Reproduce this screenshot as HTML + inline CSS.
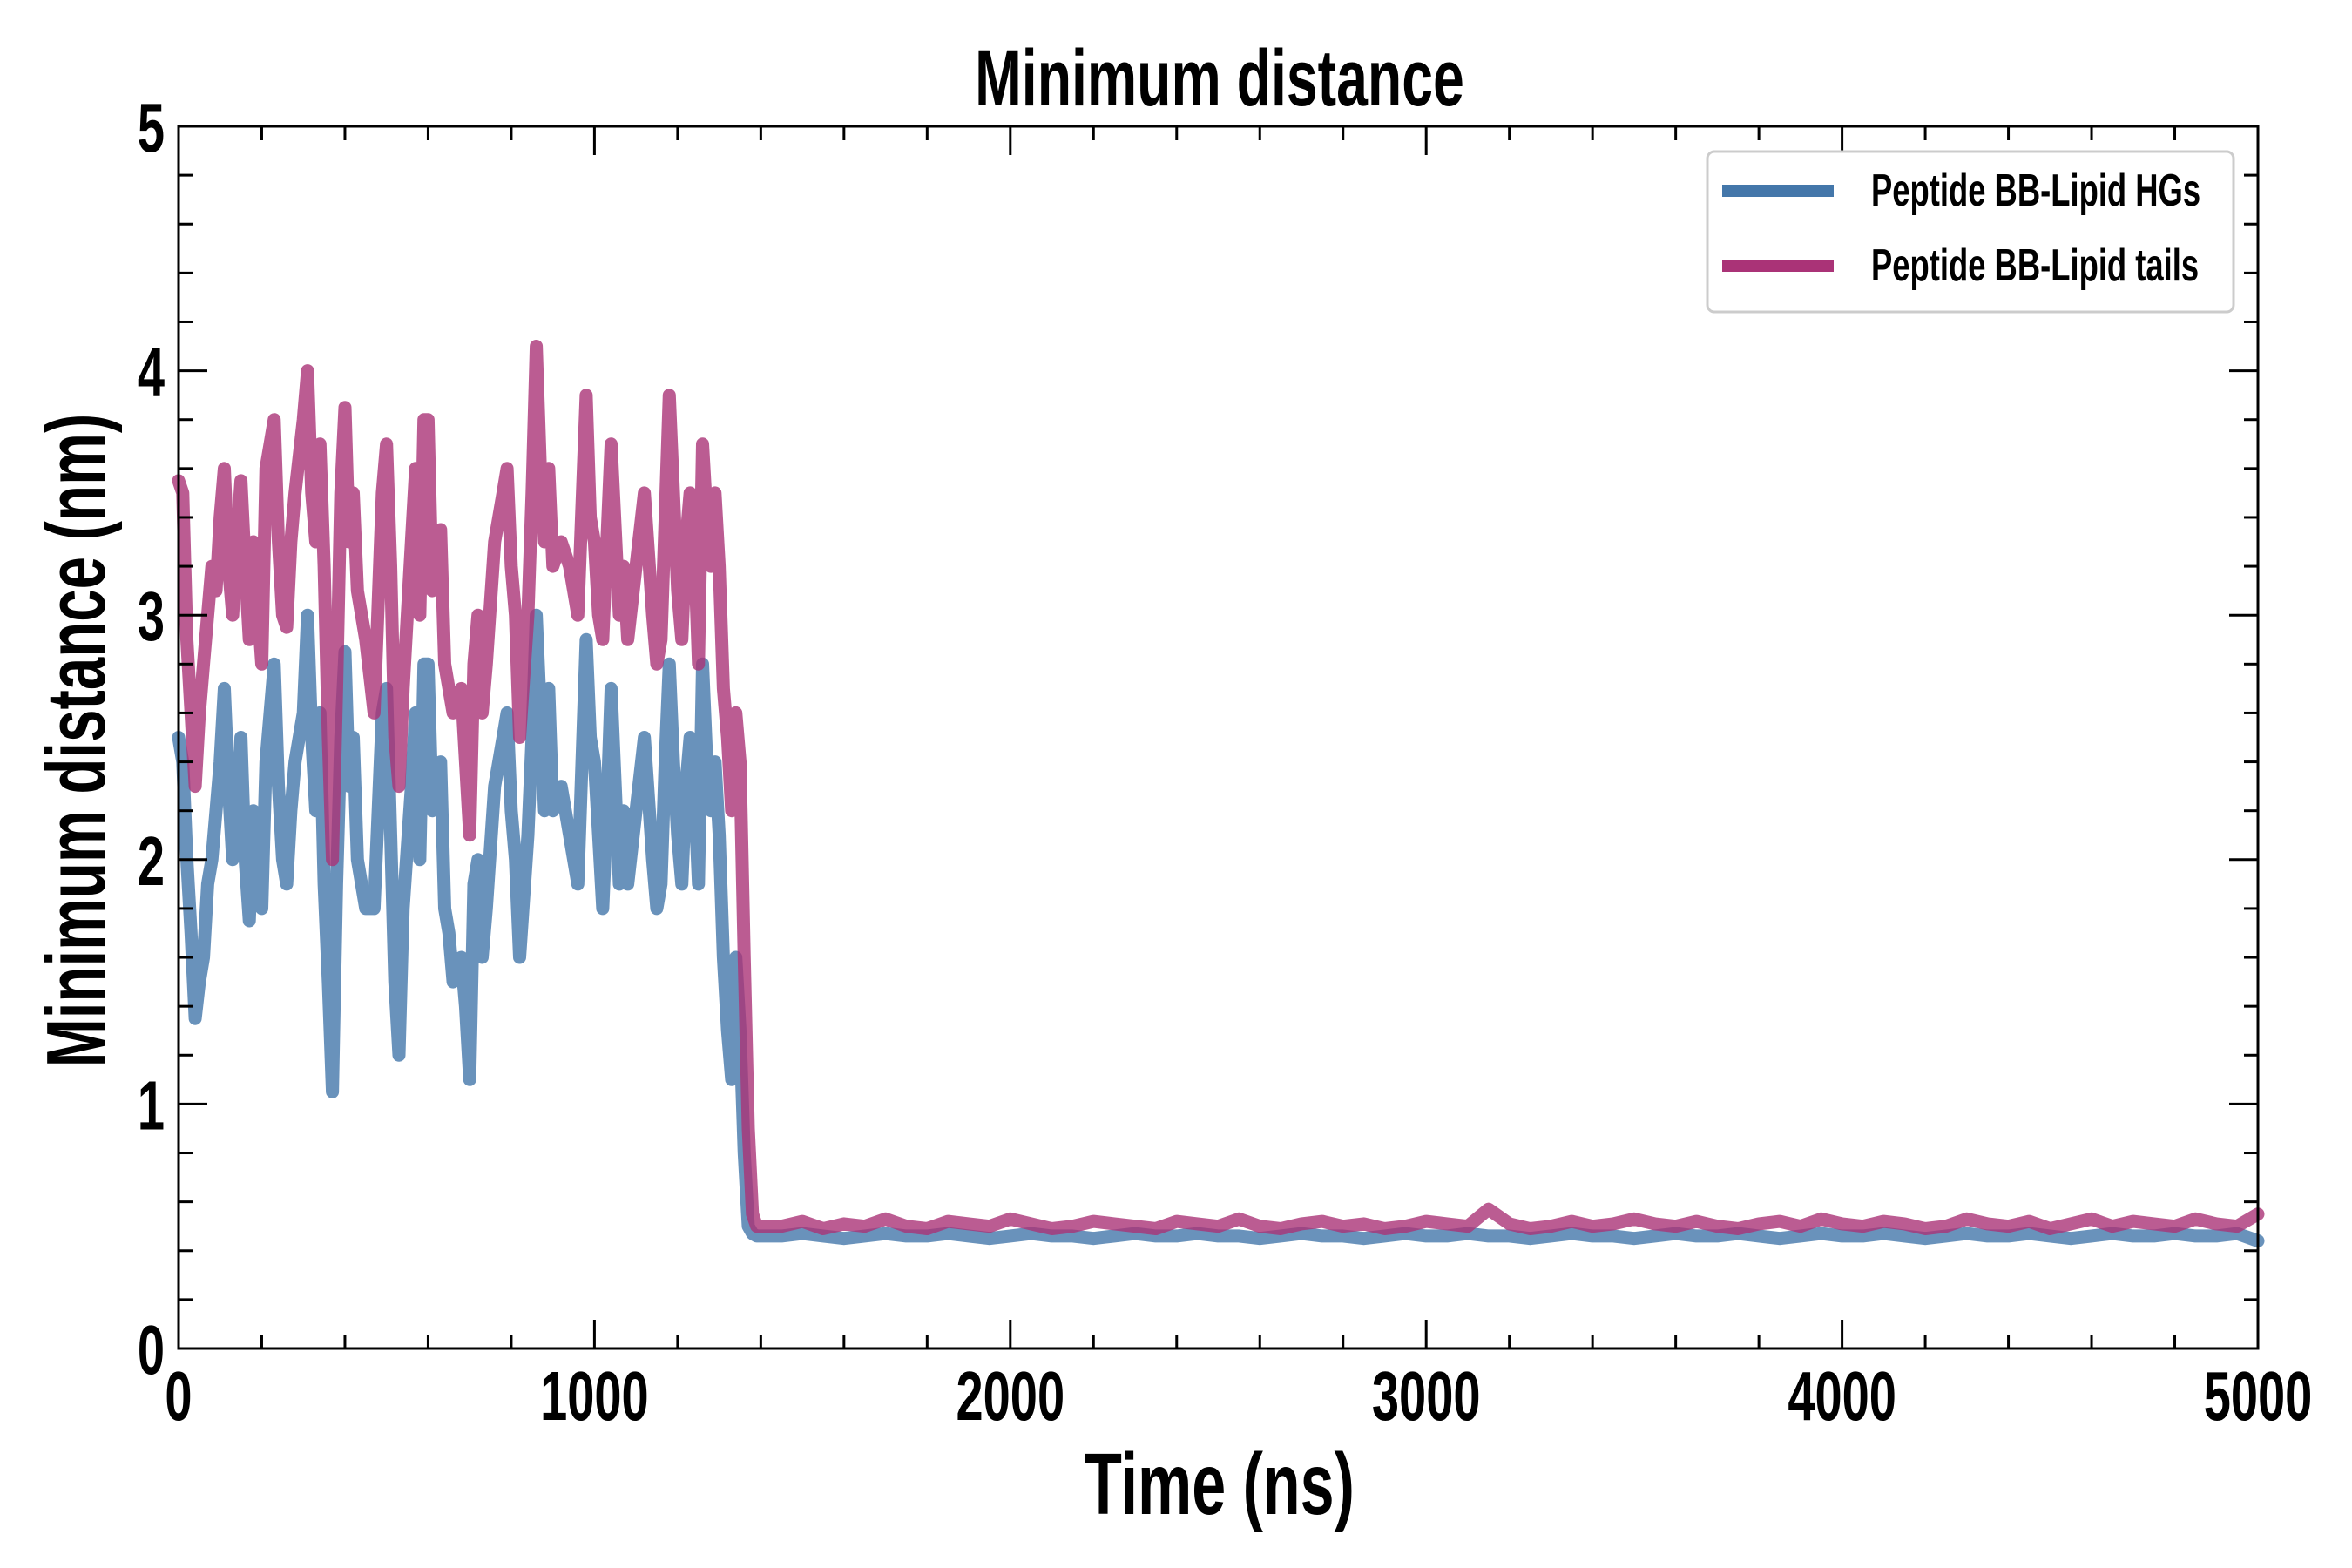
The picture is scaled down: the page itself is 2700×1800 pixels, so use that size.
<!DOCTYPE html>
<html><head><meta charset="utf-8"><style>
html,body{margin:0;padding:0;background:#fff;}
svg{display:block;}
text{font-family:"Liberation Sans",sans-serif;font-weight:bold;fill:#000;}
</style></head><body>
<svg id="chart" width="2700" height="1800" viewBox="0 0 2700 1800" xmlns="http://www.w3.org/2000/svg">
<rect x="0" y="0" width="2700" height="1800" fill="#fff"/>
<g id="marks"></g>
<g id="axes"></g>
<text transform="translate(1400,121) scale(0.70,1)" text-anchor="middle" font-size="92">Minimum distance</text>
<text transform="translate(1400,1738) scale(0.70,1)" text-anchor="middle" font-size="100">Time (ns)</text>
<text transform="translate(87,850) rotate(-90) scale(0.70,1)" text-anchor="middle" dominant-baseline="central" font-size="96">Minimum distance (nm)</text>
<g>
<rect x="1960" y="174" width="604" height="184" rx="8" fill="#fff" stroke="#ccc" stroke-width="3"/>
<line x1="1977" y1="219" x2="2105" y2="219" stroke="#4477AA" stroke-width="14"/>
<text transform="translate(2148,236) scale(0.70,1)" font-size="52">Peptide BB-Lipid HGs</text>
<line x1="1977" y1="305" x2="2105" y2="305" stroke="#AA3377" stroke-width="14"/>
<text transform="translate(2148,322) scale(0.70,1)" font-size="52">Peptide BB-Lipid tails</text>
</g>
</svg>
<script>
const earlyTimes=[0,10,20,30,40,50,60,70,80,90,100,110,120,130,140,150,160,170,180,200,210,230,240,250,260,270,280,300,310,320,330,340,350,360,370,380,390,400,410,420,430,450,470,490,500,510,520,530,540,560,570,580,590,600,610,620,630,640,650,660,680,690,700,710,720,730,740,760,780,790,800,810,820,840,850,860,870,880,890,900,920,940,960,980,990,1000,1010,1020,1030,1040,1060,1070,1080,1100,1120,1140,1150,1160,1170,1180,1190,1200,1210,1220,1230,1240,1250,1260,1270,1280,1290,1300,1310,1320,1330,1340,1350,1360,1370,1380,1390,1400];
const earlyTails=[3.55,3.5,2.9,2.6,2.3,2.6,2.8,3.0,3.2,3.1,3.4,3.6,3.2,3.0,3.3,3.55,3.2,2.9,3.3,2.8,3.6,3.8,3.3,3.0,2.95,3.3,3.5,3.8,4.0,3.5,3.3,3.7,3.2,2.5,2.0,2.7,3.5,3.85,3.3,3.5,3.1,2.9,2.6,3.5,3.7,3.2,2.5,2.3,2.7,3.3,3.6,3.0,3.8,3.8,3.1,3.2,3.35,2.8,2.7,2.6,2.7,2.4,2.1,2.8,3.0,2.6,2.8,3.3,3.5,3.6,3.2,3.0,2.5,3.0,3.5,4.1,3.6,3.3,3.6,3.2,3.3,3.2,3.0,3.9,3.4,3.3,3.0,2.9,3.3,3.7,3.0,3.2,2.9,3.2,3.5,3.0,2.8,2.9,3.4,3.9,3.5,3.1,2.9,3.3,3.5,3.3,2.8,3.7,3.4,3.2,3.5,3.2,2.7,2.5,2.2,2.6,2.4,1.6,0.9,0.55,0.5,0.5];
const earlyHG=[2.5,2.4,2.0,1.7,1.35,1.5,1.6,1.9,2.0,2.2,2.4,2.7,2.3,2.0,2.2,2.5,2.0,1.75,2.2,1.8,2.4,2.8,2.3,2.0,1.9,2.2,2.4,2.6,3.0,2.5,2.2,2.6,1.9,1.5,1.05,1.9,2.5,2.85,2.3,2.5,2.0,1.8,1.8,2.6,2.7,2.1,1.5,1.2,1.8,2.3,2.6,2.0,2.8,2.8,2.2,2.3,2.4,1.8,1.7,1.5,1.6,1.4,1.1,1.9,2.0,1.6,1.8,2.3,2.5,2.6,2.2,2.0,1.6,2.1,2.5,3.0,2.6,2.2,2.7,2.2,2.3,2.1,1.9,2.9,2.5,2.4,2.1,1.8,2.2,2.7,1.9,2.2,1.9,2.2,2.5,2.0,1.8,1.9,2.4,2.8,2.4,2.1,1.9,2.3,2.5,2.3,1.9,2.8,2.4,2.2,2.4,2.1,1.6,1.3,1.1,1.6,1.3,0.8,0.5,0.47,0.46,0.46];
const lateTimes=[1450,1500,1550,1600,1650,1700,1750,1800,1850,1900,1950,2000,2050,2100,2150,2200,2250,2300,2350,2400,2450,2500,2550,2600,2650,2700,2750,2800,2850,2900,2950,3000,3050,3100,3150,3200,3250,3300,3350,3400,3450,3500,3550,3600,3650,3700,3750,3800,3850,3900,3950,4000,4050,4100,4150,4200,4250,4300,4350,4400,4450,4500,4550,4600,4650,4700,4750,4800,4850,4900,4950,5000];
const lateTails=[0.50,0.52,0.49,0.51,0.50,0.53,0.50,0.49,0.52,0.51,0.50,0.53,
0.51,0.49,0.50,0.52,0.51,0.50,0.49,0.52,0.51,0.50,0.53,0.50,
0.49,0.51,0.52,0.50,0.51,0.49,0.50,0.52,0.51,0.50,0.57,0.51,
0.49,0.50,0.52,0.50,0.51,0.53,0.51,0.50,0.52,0.50,0.49,0.51,
0.52,0.50,0.53,0.51,0.50,0.52,0.51,0.49,0.50,0.53,0.51,0.50,
0.52,0.49,0.51,0.53,0.50,0.52,0.51,0.50,0.53,0.51,0.50,0.55];
const lateHG=[0.46,0.47,0.46,0.45,0.46,0.47,0.46,0.46,0.47,0.46,0.45,0.46,
0.47,0.46,0.46,0.45,0.46,0.47,0.46,0.46,0.47,0.46,0.46,0.45,
0.46,0.47,0.46,0.46,0.45,0.46,0.47,0.46,0.46,0.47,0.46,0.46,
0.45,0.46,0.47,0.46,0.46,0.45,0.46,0.47,0.46,0.46,0.47,0.46,
0.45,0.46,0.47,0.46,0.46,0.47,0.46,0.45,0.46,0.47,0.46,0.46,
0.47,0.46,0.45,0.46,0.47,0.46,0.46,0.47,0.46,0.46,0.47,0.44];
const xTickLabels=["0","1000","2000","3000","4000","5000"];
const yTickLabels=["0","1","2","3","4","5"];

const L=205,R=2592,T=145,B=1548;
const xMin=0,xMax=5000,yMin=0,yMax=5;
function xs(v){return L+(v-xMin)/(xMax-xMin)*(R-L);}
function ys(v){return B-(v-yMin)/(yMax-yMin)*(B-T);}
const NS="http://www.w3.org/2000/svg";
const marks=document.getElementById('marks');
const axes=document.getElementById('axes');

function series(times,vals,color,name){
  const n=Math.min(times.length,vals.length);
  let d='';
  for(let i=0;i<n;i++){d+=(i?'L':'M')+xs(times[i]).toFixed(1)+','+ys(vals[i]).toFixed(1);}
  const p=document.createElementNS(NS,'path');
  p.setAttribute('d',d);
  p.setAttribute('fill','none');
  p.setAttribute('stroke',color);
  p.setAttribute('stroke-width','15');
  p.setAttribute('stroke-opacity','0.8');
  p.setAttribute('stroke-linejoin','round');
  p.setAttribute('stroke-linecap','round');
  
  
  marks.appendChild(p);
}
const ln=(a,b)=>{const n=Math.min(a.length,b.length);return [a.slice(0,n),b.slice(0,n)];};
const [t1,h1]=ln(earlyTimes,earlyHG), [t2,p1]=ln(earlyTimes,earlyTails);
series(t1.concat(lateTimes),h1.concat(lateHG),'#4477AA','line-lipid-hgs');
series(t2.concat(lateTimes),p1.concat(lateTails),'#AA3377','line-lipid-tails');

const frame=document.createElementNS(NS,'rect');
frame.setAttribute('x',L);frame.setAttribute('y',T);
frame.setAttribute('width',R-L);frame.setAttribute('height',B-T);
frame.setAttribute('fill','none');frame.setAttribute('stroke','#000');frame.setAttribute('stroke-width','3');


axes.appendChild(frame);

function tick(x1,y1,x2,y2,name){
  const l=document.createElementNS(NS,'line');
  l.setAttribute('x1',x1);l.setAttribute('y1',y1);l.setAttribute('x2',x2);l.setAttribute('y2',y2);
  l.setAttribute('stroke','#000');l.setAttribute('stroke-width','3');
  
  
  axes.appendChild(l);
}
for(let v=0;v<=5000;v+=200){
  const major=v%1000===0, len=major?33:16, x=xs(v);
  tick(x,B,x,B-len,'x-tick');
  tick(x,T,x,T+len,'x-tick-top');
}
for(let k=0;k<=25;k++){
  const v=k*0.2, major=k%5===0, len=major?33:16, y=ys(v);
  tick(L,y,L+len,y,'y-tick');
  tick(R,y,R-len,y,'y-tick-right');
}
function label(txt,x,y,anchor,name){
  const t=document.createElementNS(NS,'text');
  t.setAttribute('transform','translate('+x+','+y+') scale(0.70,1)');
  t.setAttribute('text-anchor',anchor);
  t.setAttribute('font-size','80');
  
  
  t.textContent=txt;
  axes.appendChild(t);
}
xTickLabels.forEach((s)=>{label(s,xs(parseFloat(s)),1630,'middle','x-tick-label');});
yTickLabels.forEach((s)=>{label(s,189,ys(parseFloat(s))+29,'end','y-tick-label');});
</script>
</body></html>
